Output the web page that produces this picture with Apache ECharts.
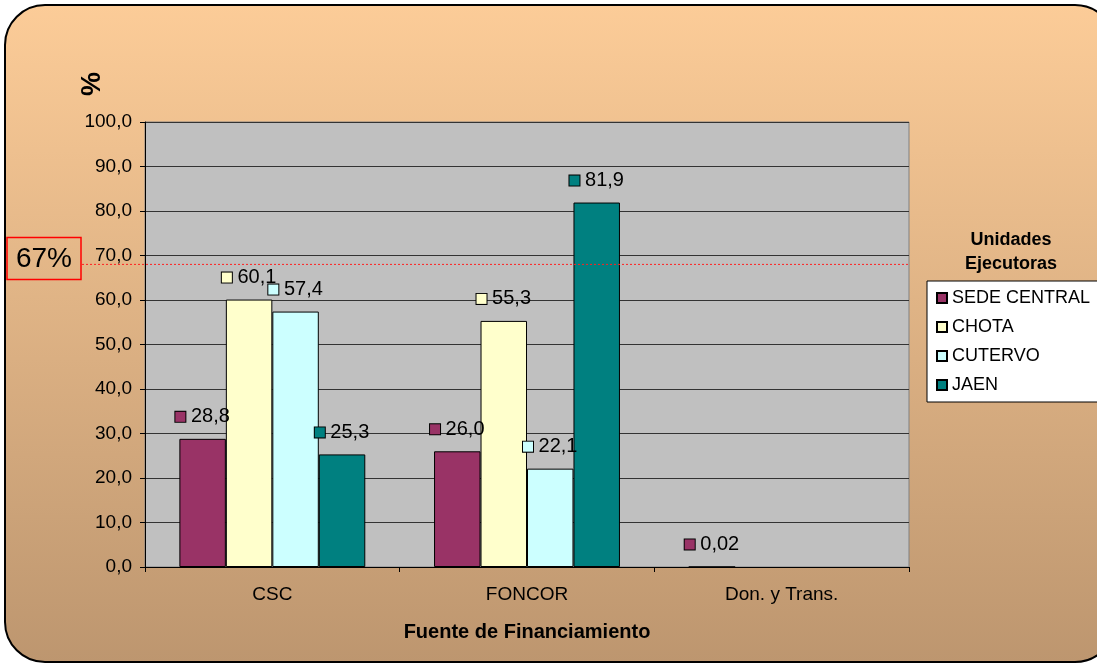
<!DOCTYPE html>
<html>
<head>
<meta charset="utf-8">
<script src="https://cdn.jsdelivr.net/npm/echarts@6/dist/echarts.min.js"></script>
<style>html,body{margin:0;padding:0;background:#fff}#c{width:1097px;height:666px}</style>
</head>
<body>
<div id="c"></div>
<script>
const categories = ['CSC', 'FONCOR', 'Don. y Trans.'];
const seriesNames = ['SEDE CENTRAL', 'CHOTA', 'CUTERVO', 'JAEN'];
const sedeCentral = [28.8, 26.0, 0.02];
const chota = [60.1, 55.3, null];
const cutervo = [57.4, 22.1, null];
const jaen = [25.3, 81.9, null];
const yTicks = { min: 0, max: 100, interval: 10 };
const targetLineValue = 68;   // where the dotted reference line is drawn in the picture
const targetLabel = '67%';

const colors = ['#993366', '#FFFFCC', '#CCFFFF', '#008080'];
const FONT = '"Liberation Sans", Arial, sans-serif';
const fmt = v => v.toFixed(v < 1 ? 2 : 1).replace('.', ',');

const values = [sedeCentral, chota, cutervo, jaen];
const chart = echarts.init(document.getElementById('c'));

const series = values.map((data, i) => ({
  name: seriesNames[i],
  type: 'bar',
  data: data,
  barGap: '0%',
  barCategoryGap: '27%',
  itemStyle: { color: colors[i], borderColor: '#000', borderWidth: 1 },
  label: {
    show: true,
    position: 'top',
    distance: 12,
    formatter: p => (p.value == null ? '' : '{b|}{t| ' + fmt(p.value) + '}'),
    rich: {
      b: { width: 10, height: 10, backgroundColor: colors[i], borderColor: '#000', borderWidth: 1 },
      t: { fontSize: 20, color: '#000', fontFamily: FONT }
    }
  }
}));

chart.setOption({
  backgroundColor: '#fff',
  textStyle: { fontFamily: FONT },
  animation: false,
  grid: { left: 145, right: 188, top: 122, bottom: 99, show: true, backgroundColor: '#C0C0C0', borderColor: '#808080', borderWidth: 1 },
  legend: {
    orient: 'vertical',
    left: 927,
    top: 281,
    padding: [8, 9, 8, 9],
    itemWidth: 10,
    itemHeight: 10,
    itemGap: 11,
    icon: 'rect',
    backgroundColor: '#fff',
    borderColor: '#000',
    borderWidth: 1,
    textStyle: { fontSize: 18, color: '#000', fontFamily: FONT },
    data: seriesNames
  },
  xAxis: {
    type: 'category',
    data: categories,
    axisLine: { lineStyle: { color: '#000' } },
    axisTick: { show: true, length: 5, lineStyle: { color: '#000' } },
    axisLabel: { fontSize: 19, color: '#000', margin: 18, fontFamily: FONT },
    name: 'Fuente de Financiamiento',
    nameLocation: 'middle',
    nameGap: 55,
    nameTextStyle: { fontSize: 20, fontWeight: 'bold', color: '#000', fontFamily: FONT }
  },
  yAxis: {
    type: 'value',
    min: yTicks.min, max: yTicks.max, interval: yTicks.interval,
    axisLine: { show: true, lineStyle: { color: '#000' } },
    axisTick: { show: true, length: 5, lineStyle: { color: '#000' } },
    axisLabel: { fontSize: 19, color: '#000', margin: 13, fontFamily: FONT, formatter: v => v.toFixed(1).replace('.', ',') },
    splitLine: { lineStyle: { color: '#333', width: 1 } }
  },
  series: series,
  graphic: [
    {
      id: 'bg', type: 'rect', z: -100, silent: true,
      shape: { x: 5, y: 5, width: 1110, height: 657, r: 40 },
      style: {
        fill: new echarts.graphic.LinearGradient(0, 0, 0, 1, [
          { offset: 0, color: '#FCCC98' },
          { offset: 1, color: '#BD966F' }
        ]),
        stroke: '#000', lineWidth: 2
      }
    },
    {
      id: 'pct', type: 'text', x: 93, y: 84, rotation: Math.PI / 2,
      style: { text: '%', font: 'bold 27px ' + FONT, fill: '#000', align: 'center', verticalAlign: 'middle' }
    },
    {
      id: 'legtitle', type: 'text', x: 1011, y: 252,
      style: { text: 'Unidades\nEjecutoras', font: 'bold 18px ' + FONT, fill: '#000', align: 'center', verticalAlign: 'middle', lineHeight: 24 }
    }
  ]
});

// target label box and dotted line, positioned from the value scale
const yPix = chart.convertToPixel({ yAxisIndex: 0 }, targetLineValue);
const xRight = chart.convertToPixel({ xAxisIndex: 0 }, categories[categories.length - 1]) +
  (chart.convertToPixel({ xAxisIndex: 0 }, categories[1]) - chart.convertToPixel({ xAxisIndex: 0 }, categories[0])) / 2;
chart.setOption({
  graphic: [
    {
      id: 'tbox', type: 'rect', z: 10,
      shape: { x: 7, y: yPix - 27, width: 74, height: 42 },
      style: { fill: 'none', stroke: '#FF0000', lineWidth: 1.5 }
    },
    {
      id: 'ttext', type: 'text', z: 10, x: 44, y: yPix - 5,
      style: { text: targetLabel, font: '28px ' + FONT, fill: '#000', align: 'center', verticalAlign: 'middle' }
    },
    {
      id: 'tline', type: 'line', z: 10, silent: true,
      shape: { x1: 82, y1: yPix, x2: xRight, y2: yPix },
      style: { stroke: '#FF2020', lineWidth: 1, lineDash: [2, 2] }
    }
  ]
});
</script>
</body>
</html>
